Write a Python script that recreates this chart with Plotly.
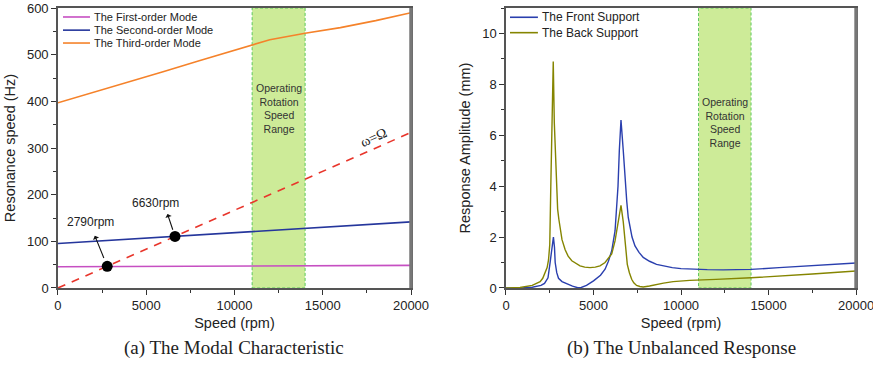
import plotly.graph_objects as go

# ---- (a) modal characteristic: resonance frequency vs rotor speed ----
speed_modes = [0, 2000, 4000, 6000, 8000, 10000, 11000, 12000, 14000, 16000, 18000, 20000]
first_order = [45.5, 45.8, 46.1, 46.4, 46.7, 47.0, 47.1, 47.3, 47.6, 47.9, 48.2, 48.5]
second_order = [95.4, 100.0, 104.6, 109.2, 113.9, 118.5, 120.8, 123.1, 127.7, 132.3, 137.0, 141.6]
third_order = [397, 419, 441, 464, 487, 509, 520, 532, 546, 558, 573, 590]

# synchronous excitation line (omega = Omega)
speed_sync = [0, 20000]
omega_sync = [0, 333.3]

# critical speed crossings
crit_speed = [2790, 6630]
crit_freq = [46.5, 110.5]
crit_labels = ["2790rpm", "6630rpm"]

# operating range (rpm)
op_range = [11000, 14000]

# ---- (b) unbalanced response amplitude vs rotor speed ----
speed_front = [0, 500, 1000, 1500, 2000, 2200, 2400, 2520, 2620, 2710, 2770, 2810, 2900, 3000,
               3200, 3500, 3800, 4100, 4300, 4600, 5000, 5400, 5660, 5850, 6040, 6230, 6285,
               6400, 6475, 6570, 6700, 6800, 6900, 6985, 7080, 7200, 7370, 7600, 7840, 8200,
               8600, 9000, 9500, 10000, 10500, 11500, 12400, 14000, 15600, 17500, 20000]
amp_front = [0, 0, 0.01, 0.03, 0.1, 0.18, 0.4, 1.0, 1.6, 2.0, 1.6, 1.0, 0.6, 0.38,
             0.25, 0.15, 0.07, 0.01, 0.02, 0.1, 0.28, 0.5, 0.74, 1.05, 1.46, 2.24, 2.77,
             4.0, 5.4, 6.6, 5.4, 4.3, 3.4, 2.77, 2.37, 2.0, 1.65, 1.4, 1.2, 1.05,
             0.93, 0.86, 0.8, 0.76, 0.74, 0.72, 0.71, 0.73, 0.8, 0.88, 0.98]

speed_back = [0, 800, 1500, 1950, 2100, 2250, 2350, 2430, 2500, 2560, 2600, 2700, 2760, 2810,
              2870, 2950, 3020, 3090, 3200, 3380, 3550, 3760, 4000, 4230, 4500, 4800, 5100,
              5370, 5660, 6040, 6230, 6415, 6570, 6700, 6800, 6930, 7050, 7180, 7300, 7460,
              7650, 7840, 8200, 8600, 9000, 9550, 10000, 10500, 12000, 14000, 17500, 19400, 20000]
amp_back = [0, 0.02, 0.1, 0.25, 0.38, 0.6, 0.8, 1.1, 1.7, 4.0, 6.0, 8.9, 6.5, 5.4,
            4.0, 3.1, 2.7, 2.3, 1.9, 1.5, 1.25, 1.07, 0.95, 0.87, 0.82, 0.8, 0.82,
            0.87, 1.0, 1.34, 1.85, 2.6, 3.25, 2.6, 1.85, 0.93, 0.6, 0.34, 0.2, 0.1,
            0.06, 0.04, 0.08, 0.14, 0.19, 0.25, 0.28, 0.3, 0.34, 0.4, 0.55, 0.65, 0.67]

SANS = "Liberation Sans, Arial, sans-serif"
SERIF = "Liberation Serif, Times New Roman, serif"
TXT = "#222222"

mode_colors = ["#c64fc2", "#25369c", "#f5822a"]
mode_names = ["The First-order Mode", "The Second-order Mode", "The Third-order Mode"]
support_colors = ["#2a3fae", "#858500"]
support_names = ["The Front Support", "The Back Support"]

fig = go.Figure()

# left panel traces
for ys, col, nm in zip([first_order, second_order, third_order], mode_colors, mode_names):
    fig.add_trace(go.Scatter(x=speed_modes, y=ys, mode="lines", name=nm,
                             line=dict(color=col, width=1.6)))
fig.add_trace(go.Scatter(x=speed_sync, y=omega_sync, mode="lines", name="ω=Ω",
                         line=dict(color="#e8352b", width=1.6, dash="8px,7px")))
fig.add_trace(go.Scatter(x=crit_speed, y=crit_freq, mode="markers", name="critical speeds",
                         marker=dict(color="black", size=11)))

# right panel traces
for xs, ys, col, nm in zip([speed_front, speed_back], [amp_front, amp_back],
                           support_colors, support_names):
    fig.add_trace(go.Scatter(x=xs, y=ys, mode="lines", name=nm,
                             line=dict(color=col, width=1.4), xaxis="x2", yaxis="y2"))

# compact in-plot legends (line swatch + label)
def add_legend(xref, yref, names, colors, rows, x0, x1, xt, size):
    for nm, col, yy in zip(names, colors, rows):
        fig.add_shape(type="line", xref=xref, yref=yref, x0=x0, x1=x1, y0=yy, y1=yy,
                      line=dict(color=col, width=1.6))
        fig.add_annotation(x=xt, y=yy, xref=xref, yref=yref, text=nm, showarrow=False,
                           xanchor="left", yanchor="middle",
                           font=dict(family=SANS, size=size, color=TXT))

add_legend("x domain", "y domain", mode_names, mode_colors,
           [0.968, 0.921, 0.875], 0.0142, 0.0907, 0.097, 11)
add_legend("x2 domain", "y2 domain", support_names, support_colors,
           [0.967, 0.912], 0.0114, 0.0912, 0.097, 12)

# operating speed band on both panels
for xr, yr in (("x", "y domain"), ("x2", "y2 domain")):
    fig.add_shape(type="rect", xref=xr, yref=yr, x0=op_range[0], x1=op_range[1], y0=0, y1=1,
                  fillcolor="#cdeb98", line=dict(color="#5cc95c", width=1, dash="3px,2px"),
                  layer="below")

# right-hand frame edges, drawn a little heavier
for xr, yr in (("x domain", "y domain"), ("x2 domain", "y2 domain")):
    fig.add_shape(type="line", xref=xr, yref=yr, x0=1, x1=1, y0=0, y1=1,
                  line=dict(color="#777", width=3.5))

band_text = "Operating<br>Rotation<br>Speed<br>Range"
fig.add_annotation(x=sum(op_range) / 2, y=385, xref="x", yref="y", text=band_text,
                   showarrow=False, font=dict(family=SANS, size=10.5, color="#333"))
fig.add_annotation(x=sum(op_range) / 2, y=6.5, xref="x2", yref="y2", text=band_text,
                   showarrow=False, font=dict(family=SANS, size=10.5, color="#333"))

# omega = Omega label along the dashed line
fig.add_annotation(x=17900, y=322, xref="x", yref="y", text="ω=Ω", showarrow=False,
                   textangle=-24, font=dict(family=SERIF, size=14, color=TXT))

# critical speed callouts: arrow pointing from the dot to its label
arrow_offsets = [(-13, -32, 9, -17, 44), (-8, -24, 7, -19, 33)]
for sx, fy, lab, (ax, ay, so, tx, ty) in zip(crit_speed, crit_freq, crit_labels, arrow_offsets):
    fig.add_annotation(x=sx, y=fy, xref="x", yref="y", text="", showarrow=True,
                       ax=ax, ay=ay, arrowside="start", arrowhead=2, arrowsize=1.3,
                       arrowwidth=1.1, arrowcolor="#111", standoff=so)
    fig.add_annotation(x=sx, y=fy, xref="x", yref="y", text=lab, showarrow=False,
                       xshift=tx, yshift=ty, font=dict(family=SANS, size=12, color=TXT))

# panel captions
fig.add_annotation(x=(0.0664 + 0.4708) / 2, y=0.047, xref="paper", yref="paper",
                   xanchor="center", yanchor="middle",
                   text="(a) The Modal Characteristic", showarrow=False,
                   font=dict(family=SERIF, size=19, color=TXT))
fig.add_annotation(x=(0.5796 + 0.9817) / 2, y=0.047, xref="paper", yref="paper",
                   xanchor="center", yanchor="middle",
                   text="(b) The Unbalanced Response", showarrow=False,
                   font=dict(family=SERIF, size=19, color=TXT))

axis_common = dict(showline=True, linecolor="#555", linewidth=1.5, mirror=True,
                   ticks="outside", ticklen=5, tickwidth=1, tickcolor="#333",
                   showgrid=False, zeroline=False, automargin=False,
                   ticklabeloverflow="allow",
                   tickfont=dict(family=SANS, size=13, color=TXT))

x_common = dict(axis_common, range=[0, 20000], dtick=5000, tickformat="d",
                minor=dict(ticks="outside", ticklen=3, dtick=2500, tickcolor="#333"),
                title=dict(text="Speed (rpm)", font=dict(family=SANS, size=14.5, color=TXT),
                           standoff=6))

fig.update_layout(
    width=873, height=365,
    margin=dict(l=0, r=0, t=0, b=0),
    paper_bgcolor="white", plot_bgcolor="white",
    showlegend=False,
    xaxis=dict(x_common, domain=[0.0664, 0.4708], anchor="y"),
    yaxis=dict(axis_common, domain=[0.211, 0.978], range=[0, 600], dtick=100, anchor="x",
               minor=dict(ticks="outside", ticklen=3, dtick=50, tickcolor="#333"),
               title=dict(text="Resonance speed (Hz)",
                          font=dict(family=SANS, size=14.5, color=TXT), standoff=8)),
    xaxis2=dict(x_common, domain=[0.5796, 0.9806], anchor="y2"),
    yaxis2=dict(axis_common, domain=[0.211, 0.978], range=[0, 11], dtick=2, anchor="x2",
                minor=dict(ticks="outside", ticklen=3, dtick=1, tickcolor="#333"),
                title=dict(text="Response Amplitude (mm)",
                           font=dict(family=SANS, size=14.5, color=TXT), standoff=8)),
)

fig.write_html("out.html")
